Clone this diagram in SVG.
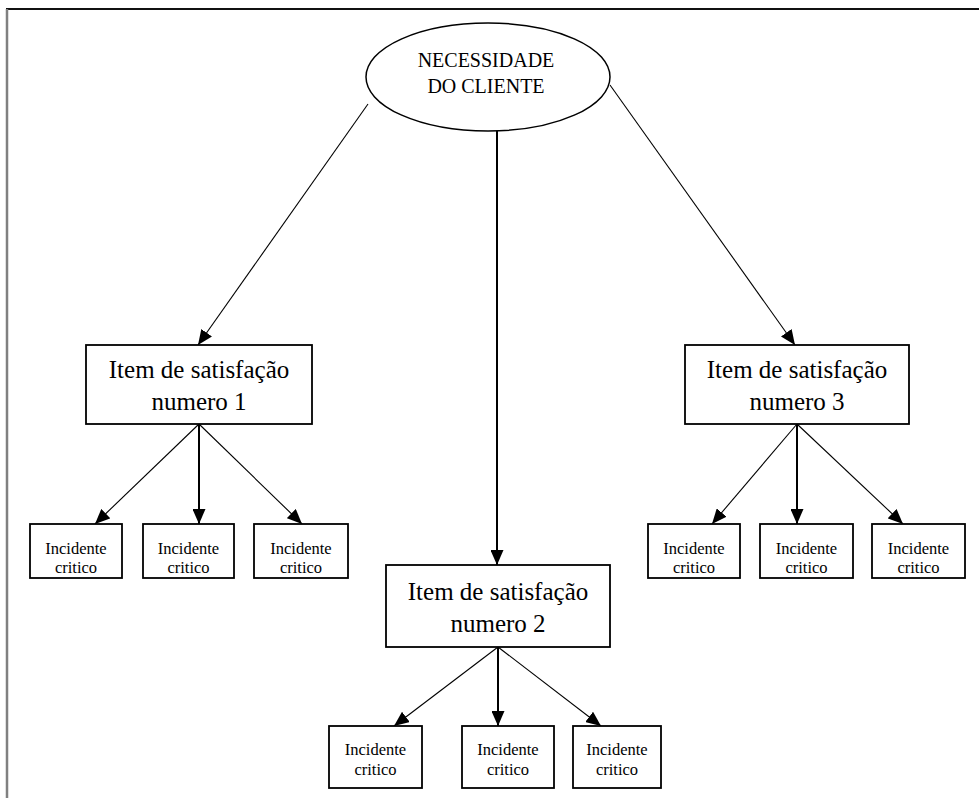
<svg xmlns="http://www.w3.org/2000/svg" width="979" height="798" viewBox="0 0 979 798">
  <style>
    .frame-top { stroke: #111; stroke-width: 2; fill: none; }
    .frame-left { stroke: #808080; stroke-width: 2.5; fill: none; }
    .node { fill: #fff; stroke: #000; stroke-width: 1.8; }
    .ell { fill: #fff; stroke: #000; stroke-width: 1.5; }
    .conn { stroke: #000; stroke-width: 1.1; fill: none; marker-end: url(#arr); }
    .connv { stroke: #000; stroke-width: 2; fill: none; marker-end: url(#arr); }
    .t-top { font-family: "Liberation Serif", "Times New Roman", serif; font-size: 20px; fill: #000; text-anchor: middle; }
    .t-item { font-family: "Liberation Serif", "Times New Roman", serif; font-size: 25px; fill: #000; text-anchor: middle; }
    .t-inc { font-family: "Liberation Serif", "Times New Roman", serif; font-size: 16.5px; fill: #000; text-anchor: middle; }
  </style>
  <defs>
    <marker id="arr" markerUnits="userSpaceOnUse" markerWidth="15" markerHeight="13" refX="15" refY="6.5" orient="auto">
      <path d="M0,0 L15,6.5 L0,13 z" fill="#000"/>
    </marker>
  </defs>
  <rect x="0" y="0" width="979" height="798" fill="#fff"/>
  <line class="frame-top" x1="6" y1="9" x2="979" y2="9"/>
  <line class="frame-left" x1="7" y1="9" x2="7" y2="798"/>

  <g id="connectors">
    <line class="conn" x1="368" y1="104" x2="198" y2="345"/>
    <line class="connv" x1="497" y1="131" x2="497" y2="565"/>
    <line class="conn" x1="610" y1="85" x2="795" y2="345"/>

    <line class="conn" x1="199" y1="424" x2="95" y2="524"/>
    <line class="connv" x1="199" y1="424" x2="199" y2="524"/>
    <line class="conn" x1="199" y1="424" x2="302" y2="524"/>

    <line class="conn" x1="797" y1="424" x2="712" y2="524"/>
    <line class="connv" x1="797" y1="424" x2="797" y2="524"/>
    <line class="conn" x1="797" y1="424" x2="903" y2="524"/>

    <line class="conn" x1="498" y1="647" x2="394" y2="726"/>
    <line class="connv" x1="498" y1="647" x2="498" y2="726"/>
    <line class="conn" x1="498" y1="647" x2="601" y2="726"/>
  </g>

  <g id="necessidade">
    <ellipse class="ell" cx="488" cy="77" rx="122" ry="54"/>
    <text class="t-top" x="486" y="67">NECESSIDADE</text>
    <text class="t-top" x="486" y="93">DO CLIENTE</text>
  </g>

  <g id="item1">
    <rect class="node" x="86" y="345" width="226" height="79"/>
    <text class="t-item" x="199" y="378">Item de satisfação</text>
    <text class="t-item" x="199" y="410">numero 1</text>
  </g>
  <g id="item2">
    <rect class="node" x="386" y="565" width="224" height="82"/>
    <text class="t-item" x="498" y="600">Item de satisfação</text>
    <text class="t-item" x="498" y="632">numero 2</text>
  </g>
  <g id="item3">
    <rect class="node" x="685" y="345" width="224" height="79"/>
    <text class="t-item" x="797" y="378">Item de satisfação</text>
    <text class="t-item" x="797" y="410">numero 3</text>
  </g>

  <g id="inc1a">
    <rect class="node" x="30" y="524" width="92" height="54"/>
    <text class="t-inc" x="76" y="554">Incidente</text>
    <text class="t-inc" x="76" y="573">critico</text>
  </g>
  <g id="inc1b">
    <rect class="node" x="143" y="524" width="91" height="54"/>
    <text class="t-inc" x="188.5" y="554">Incidente</text>
    <text class="t-inc" x="188.5" y="573">critico</text>
  </g>
  <g id="inc1c">
    <rect class="node" x="254" y="524" width="94" height="54"/>
    <text class="t-inc" x="301" y="554">Incidente</text>
    <text class="t-inc" x="301" y="573">critico</text>
  </g>

  <g id="inc3a">
    <rect class="node" x="648" y="524" width="92" height="54"/>
    <text class="t-inc" x="694" y="554">Incidente</text>
    <text class="t-inc" x="694" y="573">critico</text>
  </g>
  <g id="inc3b">
    <rect class="node" x="760" y="524" width="93" height="54"/>
    <text class="t-inc" x="806.5" y="554">Incidente</text>
    <text class="t-inc" x="806.5" y="573">critico</text>
  </g>
  <g id="inc3c">
    <rect class="node" x="872" y="524" width="93" height="54"/>
    <text class="t-inc" x="918.5" y="554">Incidente</text>
    <text class="t-inc" x="918.5" y="573">critico</text>
  </g>

  <g id="inc2a">
    <rect class="node" x="329" y="726" width="93" height="62"/>
    <text class="t-inc" x="375.5" y="755">Incidente</text>
    <text class="t-inc" x="375.5" y="775">critico</text>
  </g>
  <g id="inc2b">
    <rect class="node" x="462" y="726" width="92" height="62"/>
    <text class="t-inc" x="508" y="755">Incidente</text>
    <text class="t-inc" x="508" y="775">critico</text>
  </g>
  <g id="inc2c">
    <rect class="node" x="573" y="726" width="88" height="62"/>
    <text class="t-inc" x="617" y="755">Incidente</text>
    <text class="t-inc" x="617" y="775">critico</text>
  </g>
</svg>
